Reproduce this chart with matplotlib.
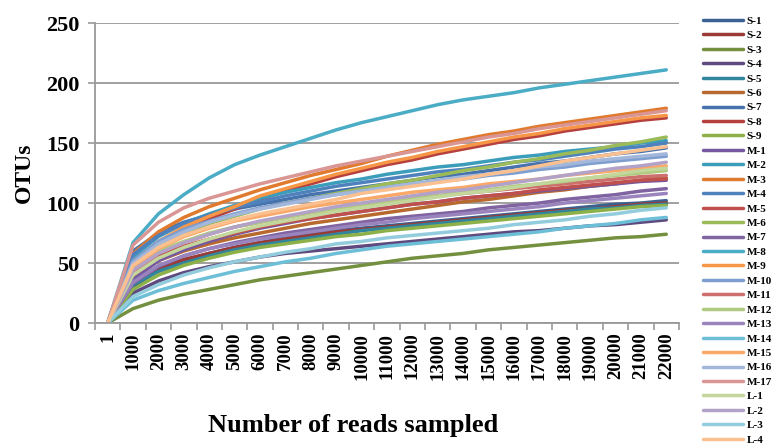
import numpy as np
import matplotlib
matplotlib.use("Agg")
import matplotlib.pyplot as plt

plt.rcParams["font.family"] = ["Liberation Serif", "DejaVu Serif"]
plt.rcParams["font.weight"] = "bold"

# === data ===
x_labels = ["1", "1000", "2000", "3000", "4000", "5000", "6000", "7000", "8000", "9000",
            "10000", "11000", "12000", "13000", "14000", "15000", "16000", "17000",
            "18000", "19000", "20000", "21000", "22000"]

series_names = ["S-1", "S-2", "S-3", "S-4", "S-5", "S-6", "S-7", "S-8", "S-9",
                "M-1", "M-2", "M-3", "M-4", "M-5", "M-6", "M-7", "M-8", "M-9",
                "M-10", "M-11", "M-12", "M-13", "M-14", "M-15", "M-16", "M-17",
                "L-1", "L-2", "L-3", "L-4"]

s1 = [0, 30, 44, 52, 58, 63, 67, 71, 74, 77, 79, 81, 83, 85, 87, 89, 91, 93, 95, 97, 99, 100, 102]
s2 = [0, 35, 46, 53, 58, 63, 67, 70, 73, 76, 78, 80, 82, 84, 86, 88, 90, 92, 94, 95, 97, 99, 100]
s3 = [0, 12, 19, 24, 28, 32, 36, 39, 42, 45, 48, 51, 54, 56, 58, 61, 63, 65, 67, 69, 71, 72, 74]
s4 = [0, 25, 35, 42, 47, 51, 55, 58, 60, 62, 64, 66, 68, 70, 72, 74, 76, 77, 79, 81, 82, 84, 86]
s5 = [0, 32, 43, 50, 56, 61, 65, 68, 71, 74, 77, 79, 81, 83, 85, 87, 89, 91, 93, 95, 96, 98, 99]
s6 = [0, 38, 52, 60, 66, 71, 75, 79, 83, 86, 89, 92, 95, 98, 101, 103, 106, 109, 111, 114, 116, 119, 121]
s7 = [0, 60, 75, 84, 90, 95, 99, 103, 107, 110, 113, 116, 119, 122, 124, 127, 130, 133, 135, 138, 141, 143, 146]
s8 = [0, 52, 67, 78, 87, 95, 103, 110, 116, 122, 127, 132, 136, 141, 145, 149, 153, 156, 160, 163, 166, 169, 171]
s9 = [0, 28, 40, 48, 54, 59, 63, 66, 69, 72, 74, 77, 79, 81, 83, 85, 87, 89, 91, 93, 95, 97, 98]
m1 = [0, 36, 52, 61, 68, 74, 79, 83, 87, 90, 93, 96, 99, 101, 104, 106, 108, 110, 112, 114, 116, 118, 119]
m2 = [0, 55, 72, 83, 91, 98, 104, 109, 113, 117, 120, 124, 127, 130, 132, 135, 138, 140, 143, 145, 147, 150, 152]
m3 = [0, 58, 76, 88, 97, 104, 111, 117, 123, 128, 133, 139, 144, 149, 153, 157, 160, 164, 167, 170, 173, 176, 179]
m4 = [0, 57, 73, 83, 90, 96, 101, 106, 110, 114, 117, 120, 123, 126, 128, 131, 134, 136, 139, 142, 145, 147, 150]
m5 = [0, 43, 56, 64, 70, 75, 80, 84, 87, 90, 93, 96, 99, 101, 104, 106, 108, 111, 113, 115, 117, 119, 120]
m6 = [0, 47, 64, 75, 83, 89, 95, 100, 104, 108, 112, 116, 119, 123, 127, 130, 134, 137, 141, 144, 148, 151, 155]
m7 = [0, 33, 47, 56, 62, 67, 71, 75, 78, 81, 84, 87, 89, 91, 93, 96, 98, 100, 103, 105, 107, 110, 112]
m8 = [0, 67, 91, 107, 121, 132, 140, 147, 154, 161, 167, 172, 177, 182, 186, 189, 192, 196, 199, 202, 205, 208, 211]
m9 = [0, 50, 68, 80, 89, 97, 106, 112, 118, 124, 129, 134, 138, 143, 147, 151, 155, 158, 162, 165, 168, 171, 173]
m10 = [0, 52, 68, 78, 85, 91, 96, 100, 104, 107, 110, 113, 116, 118, 120, 123, 125, 128, 130, 133, 135, 137, 139]
m11 = [0, 42, 58, 67, 74, 80, 84, 88, 92, 95, 98, 101, 104, 106, 108, 110, 112, 114, 116, 118, 120, 122, 123]
m12 = [0, 46, 60, 68, 75, 80, 84, 88, 92, 95, 98, 101, 104, 106, 109, 111, 114, 116, 118, 121, 123, 125, 127]
m13 = [0, 34, 48, 56, 62, 66, 70, 73, 76, 79, 82, 84, 87, 89, 91, 93, 95, 97, 100, 102, 104, 106, 108]
m14 = [0, 19, 27, 33, 38, 43, 47, 51, 54, 58, 61, 64, 66, 68, 70, 72, 74, 76, 79, 81, 83, 86, 88]
m15 = [0, 45, 62, 72, 79, 85, 89, 93, 97, 100, 103, 106, 109, 111, 113, 116, 118, 120, 123, 125, 127, 129, 131]
m16 = [0, 50, 66, 76, 84, 90, 95, 99, 103, 107, 110, 113, 116, 119, 122, 124, 127, 130, 132, 135, 137, 139, 141]
m17 = [0, 65, 84, 96, 104, 110, 116, 121, 126, 131, 135, 139, 143, 147, 151, 155, 158, 162, 165, 168, 171, 174, 177]
l1 = [0, 40, 54, 63, 70, 76, 81, 85, 89, 93, 96, 99, 102, 105, 108, 110, 113, 116, 119, 121, 124, 127, 129]
l2 = [0, 44, 58, 67, 74, 80, 85, 89, 93, 97, 100, 103, 106, 109, 111, 114, 117, 120, 123, 126, 129, 131, 134]
l3 = [0, 22, 32, 40, 46, 51, 55, 59, 62, 66, 68, 71, 73, 75, 77, 79, 82, 84, 86, 89, 91, 94, 96]
l4 = [0, 48, 63, 73, 80, 86, 91, 95, 99, 103, 108, 111, 114, 117, 120, 124, 127, 131, 135, 138, 141, 144, 147]

all_series = [s1, s2, s3, s4, s5, s6, s7, s8, s9,
              m1, m2, m3, m4, m5, m6, m7, m8, m9,
              m10, m11, m12, m13, m14, m15, m16, m17,
              l1, l2, l3, l4]

# Excel 2007 风格配色（深 -> 中 -> 基础 -> 浅 -> 更浅）
colors = ["#3A6191", "#9A3B38", "#74903F", "#5E4A7E", "#31859C", "#B8692E",
          "#4672AE", "#B5403E", "#8DB049", "#7558A0", "#3C9DBA", "#E07A2E",
          "#4F81BD", "#C0504D", "#9BBB59", "#8064A2", "#4BACC6", "#F79646",
          "#7E9ECF", "#CD6F6D", "#B0CB80", "#9A84BE", "#6CBFD7", "#F9A868",
          "#A3B7DA", "#D99694", "#C3D69B", "#B3A2C7", "#93CDDD", "#FAC090"]

# === 绘图 ===
fig = plt.figure(figsize=(7.72, 4.44), dpi=100)
ax = fig.add_axes([0.123, 0.2725, 0.7565, 0.6755])

xs = np.arange(len(x_labels))
for name, vals, c in zip(series_names, all_series, colors):
    ax.plot(xs, vals, color=c, linewidth=2.5, label=name,
            solid_capstyle="round", solid_joinstyle="round")

ax.set_xlim(-0.5, len(x_labels) - 0.5)
ax.set_ylim(0, 250)
ax.set_yticks(np.arange(0, 251, 50))
ax.set_xticks(xs)
ax.set_xticklabels(x_labels, rotation=90, fontsize=13.5, fontweight="bold")
ax.tick_params(axis="x", length=0, pad=7)
ax.set_xticks(np.arange(-0.5, len(x_labels), 1), minor=True)
ax.tick_params(axis="x", which="minor", length=5, width=1.2, color="#999999", direction="out")
ax.tick_params(axis="y", length=5, width=1.2, color="#999999", direction="out", labelsize=16, pad=6)
for lab in ax.get_yticklabels():
    lab.set_fontweight("bold")

ax.grid(axis="y", color="#999999", linewidth=1.3)
ax.set_axisbelow(True)
for sp in ["top", "right"]:
    ax.spines[sp].set_visible(False)
for sp in ["left", "bottom"]:
    ax.spines[sp].set_color("#999999")
    ax.spines[sp].set_linewidth(1.3)

ax.set_ylabel("OTUs", fontsize=17, fontweight="bold", labelpad=8)
ax.set_xlabel("Number of reads sampled", fontsize=19, fontweight="bold")
ax.xaxis.set_label_coords(0.442, -0.302)

fig.legend(loc="upper left", bbox_to_anchor=(0.905, 0.974), frameon=False,
           handlelength=3.6, labelspacing=0.42, handletextpad=0.3,
           borderaxespad=0, prop={"weight": "bold", "size": 8})

plt.savefig("out.png", dpi=100)
